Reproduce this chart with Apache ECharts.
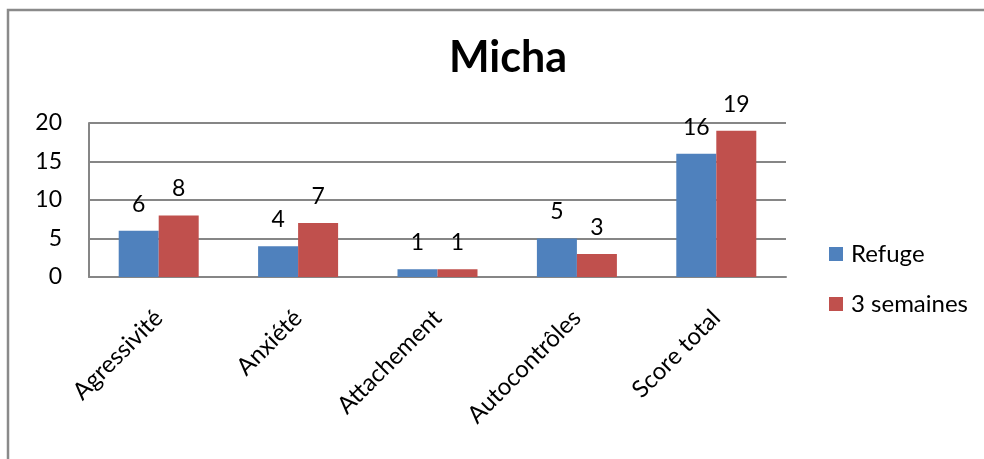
<!DOCTYPE html>
<html>
<head>
<meta charset="utf-8">
<script src="https://cdn.jsdelivr.net/npm/echarts@6/dist/echarts.min.js"></script>
<style>
html,body{margin:0;padding:0;background:#fff;}
#chart{width:984px;height:459px;}
</style>
</head>
<body>
<div id="chart"></div>
<script>
var chartTitle = 'Micha';
var categories = ['Agressivité', 'Anxiété', 'Attachement', 'Autocontrôles', 'Score total'];
var seriesNames = ['Refuge', '3 semaines'];
var refugeValues = [6, 4, 1, 5, 16];
var troisSemainesValues = [8, 7, 1, 3, 19];
var yTicks = [0, 5, 10, 15, 20];

var FONT = 'Lato';
var chart = echarts.init(document.getElementById('chart'));
var labelStyle = {show: true, position: 'top', distance: 15, fontFamily: FONT, fontSize: 23, color: '#000'};
chart.setOption({
  animation: false,
  backgroundColor: '#fff',
  graphic: [{
    type: 'rect', silent: true,
    shape: {x: 8, y: 10, width: 1100, height: 600},
    style: {fill: 'none', stroke: '#8a8a8a', lineWidth: 2.5}
  }],
  title: {
    text: chartTitle, left: 503, textAlign: 'center', top: 32,
    textStyle: {fontFamily: FONT, fontWeight: 'bold', fontSize: 43, color: '#000'}
  },
  legend: {
    orient: 'vertical', left: 829, top: 242, padding: 0, itemWidth: 14, itemHeight: 14, itemGap: 26,
    icon: 'rect',
    textStyle: {fontFamily: FONT, fontSize: 24, color: '#000', padding: [0, 0, 0, 3]},
    data: seriesNames
  },
  grid: {left: 89, right: 198, top: 123, bottom: 182, containLabel: false},
  xAxis: {
    type: 'category', data: categories,
    axisLine: {show: true, lineStyle: {color: '#868686', width: 2}},
    axisTick: {show: false},
    axisLabel: {rotate: 45, margin: 37, fontFamily: FONT, fontSize: 24, color: '#000', interval: 0}
  },
  yAxis: {
    type: 'value', min: yTicks[0], max: yTicks[yTicks.length - 1], interval: yTicks[1] - yTicks[0],
    axisLine: {show: true, lineStyle: {color: '#868686', width: 2}},
    axisTick: {show: false},
    splitLine: {lineStyle: {color: '#868686', width: 2}},
    axisLabel: {margin: 27, fontFamily: FONT, fontSize: 23, color: '#000'}
  },
  series: [
    {name: seriesNames[0], type: 'bar', data: refugeValues, barWidth: 40, barGap: '0%',
     itemStyle: {color: '#4F81BD'}, label: labelStyle},
    {name: seriesNames[1], type: 'bar', data: troisSemainesValues, barWidth: 40, barGap: '0%',
     itemStyle: {color: '#C0504D'}, label: labelStyle}
  ]
});
</script>
</body>
</html>
